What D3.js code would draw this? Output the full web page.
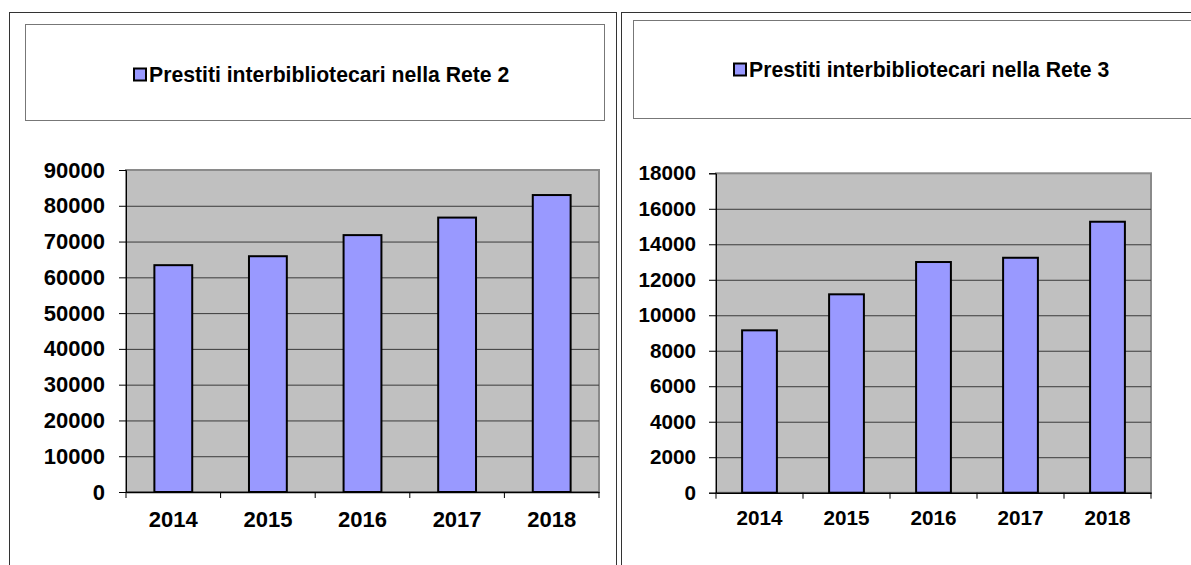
<!DOCTYPE html>
<html>
<head>
<meta charset="utf-8">
<script src="https://cdn.jsdelivr.net/npm/d3@7"></script>
<style>
  body { margin: 0; background: #fff; }
  svg { display: block; font-family: "Liberation Sans", Arial, sans-serif; }
</style>
</head>
<body>
<div id="app"></div>
<script>
const years = ["2014", "2015", "2016", "2017", "2018"];
const rete2 = [63400, 65900, 71800, 76700, 83000];
const rete3 = [9150, 11180, 13000, 13240, 15270];
const ticks2 = [0, 10000, 20000, 30000, 40000, 50000, 60000, 70000, 80000, 90000];
const ticks3 = [0, 2000, 4000, 6000, 8000, 10000, 12000, 14000, 16000, 18000];
const legendNames = ["Prestiti interbibliotecari nella Rete 2", "Prestiti interbibliotecari nella Rete 3"];

const width = 1191,
  height = 565;

const svg = d3.select("#app")
  .append("svg")
  .attr("width", width)
  .attr("height", height);

// panel layouts (pixels)
const panels = [
  {
    values: rete2, ticks: ticks2, name: legendNames[0],
    frame: [9, 12, 616, 600], box: [25, 24, 604, 120],
    legendX: 133, legendBase: 81.5,
    plot: [126, 170, 599, 492], font: 22, yPad: 14, xPad: 19.5
  },
  {
    values: rete3, ticks: ticks3, name: legendNames[1],
    frame: [621, 12, 1250, 600], box: [633, 20, 1250, 118],
    legendX: 733, legendBase: 76.5,
    plot: [716, 173.3, 1151, 492.7], font: 20.7, yPad: 13, xPad: 17.5
  }
];

panels.forEach(p => {
  const g = svg.append("g");

  // outer chart border
  g.append("rect")
    .attr("x", p.frame[0] + 0.5)
    .attr("y", p.frame[1] + 0.5)
    .attr("width", p.frame[2] - p.frame[0])
    .attr("height", p.frame[3] - p.frame[1])
    .attr("fill", "#fff")
    .attr("stroke", "#333")
    .attr("stroke-width", 1);

  // legend box
  g.append("rect")
    .attr("x", p.box[0] + 0.5)
    .attr("y", p.box[1] + 0.5)
    .attr("width", p.box[2] - p.box[0])
    .attr("height", p.box[3] - p.box[1])
    .attr("fill", "#fff")
    .attr("stroke", "#777")
    .attr("stroke-width", 1);

  g.append("rect")
    .attr("x", p.legendX + 1)
    .attr("y", p.legendBase - 13)
    .attr("width", 12)
    .attr("height", 12)
    .attr("fill", "#9999ff")
    .attr("stroke", "#000")
    .attr("stroke-width", 2);

  g.append("text")
    .attr("x", p.legendX + 16)
    .attr("y", p.legendBase)
    .attr("font-size", 21.2)
    .attr("font-weight", "bold")
    .text(p.name);

  const x = d3.scaleBand()
    .domain(years)
    .range([p.plot[0], p.plot[2]])
    .paddingInner(0.6)
    .paddingOuter(0.3);

  const y = d3.scaleLinear()
    .domain([0, d3.max(p.ticks)])
    .range([p.plot[3], p.plot[1]]);

  // plot area
  g.append("rect")
    .attr("x", p.plot[0])
    .attr("y", p.plot[1])
    .attr("width", p.plot[2] - p.plot[0])
    .attr("height", p.plot[3] - p.plot[1])
    .attr("fill", "#c0c0c0")
    .attr("stroke", "#8a8a8a")
    .attr("stroke-width", 2);

  // grid lines
  g.append("g")
    .attr("transform", `translate(${p.plot[0]},0)`)
    .call(d3.axisLeft(y).tickValues(p.ticks.slice(1, -1)).tickSize(-(p.plot[2] - p.plot[0])).tickFormat(""))
    .call(a => a.select(".domain").remove())
    .selectAll("line")
    .attr("stroke", "#3a3a3a");

  // bars
  g.selectAll(".bar")
    .data(p.values)
    .enter()
    .append("rect")
    .attr("class", "bar")
    .attr("x", (d, i) => x(years[i]))
    .attr("y", d => y(d))
    .attr("width", x.bandwidth())
    .attr("height", d => y(0) - y(d))
    .attr("fill", "#9999ff")
    .attr("stroke", "#000")
    .attr("stroke-width", 2);

  // y axis
  g.append("g")
    .attr("transform", `translate(${p.plot[0]},0)`)
    .call(d3.axisLeft(y).tickValues(p.ticks).tickSize(7).tickPadding(p.yPad).tickFormat(d3.format("d")))
    .call(a => a.select(".domain").attr("stroke", "#000"))
    .call(a => a.selectAll("line").attr("stroke", "#000"))
    .selectAll("text")
    .attr("font-size", p.font)
    .attr("font-weight", "bold")
    .attr("font-family", "Liberation Sans, Arial, sans-serif")
    .attr("fill", "#000");

  // x axis labels
  const step = (p.plot[2] - p.plot[0]) / years.length;
  g.append("g")
    .attr("transform", `translate(0,${p.plot[3]})`)
    .call(d3.axisBottom(x).tickSize(0).tickPadding(p.xPad))
    .call(a => a.select(".domain").attr("stroke", "#000").attr("stroke-width", 1.5))
    .selectAll("text")
    .attr("font-size", p.font)
    .attr("font-weight", "bold")
    .attr("font-family", "Liberation Sans, Arial, sans-serif")
    .attr("fill", "#000");

  // category boundary ticks
  g.selectAll(".xtick")
    .data(d3.range(years.length + 1))
    .enter()
    .append("line")
    .attr("class", "xtick")
    .attr("x1", i => p.plot[0] + i * step)
    .attr("x2", i => p.plot[0] + i * step)
    .attr("y1", p.plot[3])
    .attr("y2", p.plot[3] + 6)
    .attr("stroke", "#000");
});
</script>
</body>
</html>
